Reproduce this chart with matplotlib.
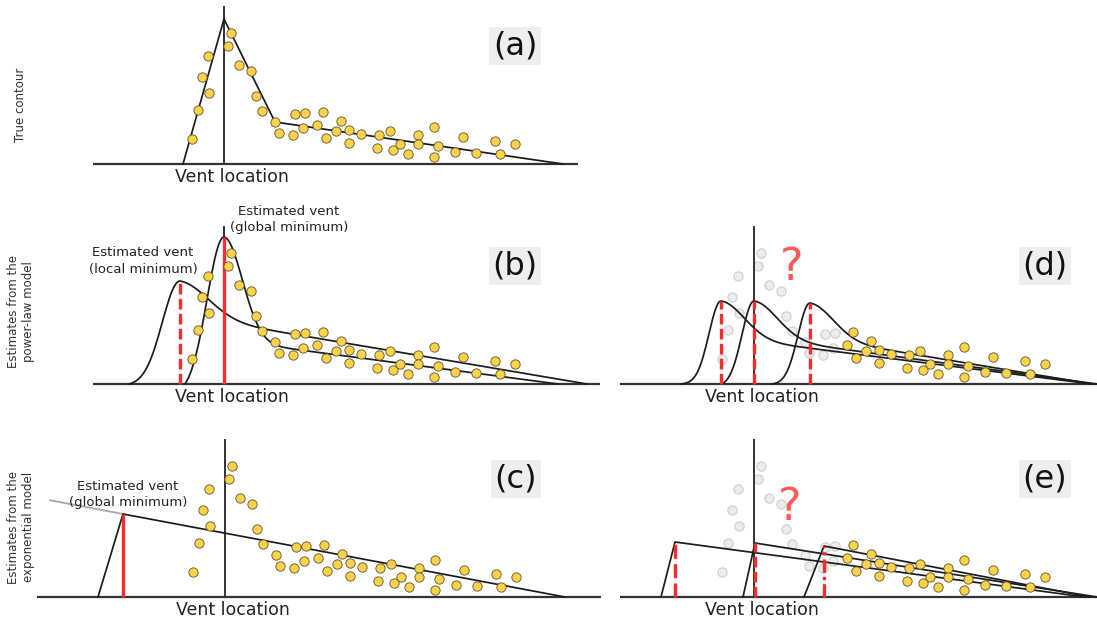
import numpy as np
import matplotlib
matplotlib.use("Agg")
import matplotlib.pyplot as plt

# Survey points: horizontal offset from the vent and height above ground
offset_x = [-32, -26, -22, -15, -16, 4, 7, 15, 27, 32, 38, 51, 55, 69, 71, 81, 79,
            93, 99, 102, 117, 112, 125, 125, 137, 155, 153, 166, 169, 176, 184,
            194, 194, 210, 214, 210, 231, 239, 252, 271, 276, 291]
height = [25, 54, 87, 71, 108, 118, 131, 99, 93, 68, 53, 42, 31, 29, 50, 51, 36,
          39, 52, 26, 43, 33, 34, 21, 30, 29, 16, 33, 14, 20, 10,
          29, 20, 37, 18, 7, 12, 27, 11, 23, 10, 20]
far_field_min = 85  # only points beyond this offset are used in panels (d) and (e)

panel_tags = ["(a)", "(b)", "(c)", "(d)", "(e)"]
row_titles = ["True contour",
              "Estimates from the\npower-law model",
              "Estimates from the\nexponential model"]

# True contour vertices (offset, height)
true_x = [-41, 0, 51, 339]
true_h = [0, 145, 42, 0]

# Power-law fits: start, peak offset, end, peak height
powerlaw_b = [(-39, 0, 334, 147), (-95, -44, 363, 103)]
powerlaw_d = [(-74, -33, 338, 83), (-32, 0, 343, 83), (18, 56, 338, 81)]

# Exponential fits: foot, peak offset, peak height, end
expo_c = [(-127, -102, 83, 340)]
expo_c_back = -175
expo_e = [(-93, -79, 55, 331), (-11, 1, 54, 343), (50, 70, 51, 336)]

W, H = 1097, 624
fig = plt.figure(figsize=(W / 100, H / 100), dpi=100)

BLACK = "#1c1c1c"
GROUND = "#333333"
RED = "#ff2a2a"
QRED = "#ff5a5a"
YELLOW = "#fad34a"
YEDGE = "#5e5230"
GREY_FILL = "#ececec"
GREY_EDGE = "#c9c9c9"


def panel_axes(x0, x1, y0, y1, vent, base):
    ax = fig.add_axes([x0 / W, 1 - y1 / H, (x1 - x0) / W, (y1 - y0) / H])
    ax.set_xlim(x0 - vent, x1 - vent)
    ax.set_ylim(base - y1, base - y0)
    ax.axis("off")
    return ax


def powerlaw_curve(start, peak, end, h, rise_w, tail, bump_w):
    xl = np.linspace(start, peak, 120)
    g = np.exp(-((xl - peak) / rise_w) ** 2)
    g0 = np.exp(-((start - peak) / rise_w) ** 2)
    yl = h * (g - g0) / (1 - g0)
    xr = np.linspace(peak, end, 400)
    d = xr - peak
    yr = tail * (1 - d / (end - peak)) + (h - tail) * np.exp(-(d / bump_w) ** 2)
    return np.concatenate([xl, xr]), np.concatenate([yl, yr])


def draw_points(ax, partial):
    ox = np.array(offset_x)
    hy = np.array(height)
    if partial:
        near = ox <= far_field_min
        ax.plot(ox[near], hy[near], "o", ms=6.7, mfc=GREY_FILL, mec=GREY_EDGE,
                mew=0.7, zorder=1, clip_on=False)
        ox, hy = ox[~near], hy[~near]
    ax.plot(ox, hy, "o", ms=6.7, mfc=YELLOW, mec=YEDGE, mew=0.6, zorder=6,
            clip_on=False)


def decorate(ax, tag, ground):
    ax.plot(ground, [0, 0], color=GROUND, lw=1.6, zorder=2, solid_capstyle="butt",
            clip_on=False)
    ax.text(8, -13, "Vent location", ha="center", va="center", fontsize=12.5,
            color="#222222")
    ax.text(291, 118, tag, ha="center", va="center", fontsize=23, color="#111111",
            bbox=dict(boxstyle="square,pad=0.12", fc="#eeeeee", ec="none"))


def vent_line(ax):
    ax.plot([0, 0], [0, 157], color=GROUND, lw=1.4, zorder=2, clip_on=False)


# (a) true contour
ax = panel_axes(60, 610, 0, 200, 224, 164)
decorate(ax, panel_tags[0], [-131, 354])
vent_line(ax)
ax.plot(true_x, true_h, color=BLACK, lw=1.25, zorder=3, clip_on=False)
draw_points(ax, False)

# (b) power-law estimates, full data
ax = panel_axes(60, 610, 200, 420, 224, 384)
decorate(ax, panel_tags[1], [-131, 376])
vent_line(ax)
shapes_b = [(24, 44, 26), (25, 69, 40)]
for (s, p, e, h), (rw, tl, bw) in zip(powerlaw_b, shapes_b):
    cx, cy = powerlaw_curve(s, p, e, h, rw, tl, bw)
    ax.plot(cx, cy, color=BLACK, lw=1.25, zorder=3, clip_on=False)
s, p, e, h = powerlaw_b[0]
ax.plot([p, p], [0, h], color=RED, lw=2.4, zorder=4, solid_capstyle="butt")
s, p, e, h = powerlaw_b[1]
ax.plot([p, p], [0, h], color=RED, lw=2.4, zorder=4, ls=(0, (3.2, 1.3)))
draw_points(ax, False)
ax.text(65, 164.5, "Estimated vent\n(global minimum)", ha="center", va="center",
        fontsize=9.5, linespacing=1.3, color="#222222", zorder=7)
ax.text(-81, 123, "Estimated vent\n(local minimum)", ha="center", va="center",
        fontsize=9.5, linespacing=1.3, color="#222222", zorder=7)

# (c) exponential estimate, full data
ax = panel_axes(0, 610, 420, 624, 225, 597)
decorate(ax, panel_tags[2], [-188, 376])
vent_line(ax)
foot, pk, h, end = expo_c[0]
slope = h / (end - pk)
ax.plot([expo_c_back, pk], [h + slope * (pk - expo_c_back), h], color="#a8a8a8",
        lw=1.3, zorder=3, clip_on=False)
ax.plot([foot, pk, end], [0, h, 0], color=BLACK, lw=1.25, zorder=3, clip_on=False)
ax.plot([pk, pk], [0, h], color=RED, lw=2.4, zorder=4, solid_capstyle="butt")
draw_points(ax, False)
ax.text(-97, 102.5, "Estimated vent\n(global minimum)", ha="center", va="center",
        fontsize=9.5, linespacing=1.25, color="#222222", zorder=7)

# (d) power-law estimates, far-field data only
ax = panel_axes(605, 1097, 200, 420, 754, 384)
decorate(ax, panel_tags[3], [-134, 343])
vent_line(ax)
for s, p, e, h in powerlaw_d:
    cx, cy = powerlaw_curve(s, p, e, h, 17, 47, 33)
    ax.plot(cx, cy, color=BLACK, lw=1.25, zorder=3, clip_on=False)
    ax.plot([p, p], [0, h], color=RED, lw=2.4, zorder=4, ls=(0, (3.2, 1.3)))
draw_points(ax, True)
ax.text(38, 116, "?", ha="center", va="center", fontsize=32, color=QRED)

# (e) exponential estimates, far-field data only
ax = panel_axes(605, 1097, 420, 624, 754, 597)
decorate(ax, panel_tags[4], [-134, 343])
vent_line(ax)
dash_styles = [(0, (4.2, 1.6)), (0, (3.2, 1.3)), (0, (4.0, 1.2, 1.0, 1.2))]
for (foot, pk, h, end), ls in zip(expo_e, dash_styles):
    ax.plot([foot, pk, end], [0, h, 0], color=BLACK, lw=1.25, zorder=3, clip_on=False)
    ax.plot([pk, pk], [0, h], color=RED, lw=2.4, zorder=4, ls=ls)
draw_points(ax, True)
ax.text(36, 90, "?", ha="center", va="center", fontsize=32, color=QRED)

# Row titles
for title, yc in zip(row_titles, [105, 312, 527]):
    fig.text(21 / W, 1 - yc / H, title, rotation=90, ha="center", va="center",
             fontsize=8.5, color="#333333", linespacing=1.2)

fig.savefig("out.png", dpi=100)
